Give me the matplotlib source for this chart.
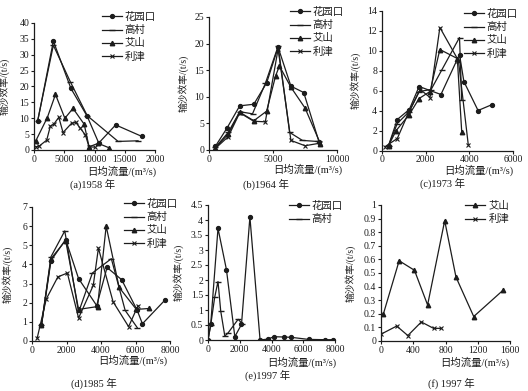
import matplotlib
matplotlib.use("Agg")
import matplotlib.pyplot as plt

plt.rcParams['font.family'] = ['Liberation Serif', 'Noto Sans CJK SC']

W, H = 528, 391
INK = '#1c1c1c'

# (a) 1958
a_hyk_x = [600, 3200, 6100, 8800, 10700, 13500, 17800]
a_hyk_y = [9.0, 34.3, 19.4, 10.6, 2.2, 7.9, 4.3]
a_gc_x = [600, 3200, 6000, 8800, 13900, 17200]
a_gc_y = [9.2, 33.0, 21.5, 10.8, 2.7, 2.9]
a_as_x = [300, 2200, 3550, 5100, 6450, 8300, 9100, 10600, 12400]
a_as_y = [2.9, 10.2, 17.5, 10.0, 13.1, 8.1, 1.0, 2.1, 0.7]
a_lj_x = [300, 900, 2100, 2700, 3300, 4100, 4800, 6200, 6900, 7600, 8500, 9100, 10000]
a_lj_y = [1.0, 1.3, 3.1, 7.5, 8.2, 10.3, 5.5, 8.4, 8.7, 7.0, 4.7, 1.0, 0.9]

# (b) 1964
b_hyk_x = [500, 1400, 2400, 3500, 4500, 5400, 6400, 7400, 8600]
b_hyk_y = [0.7, 4.1, 8.3, 8.6, 12.6, 19.3, 12.0, 10.8, 1.5]
b_gc_x = [500, 1500, 2400, 3400, 4400, 5400, 6300, 7300, 8500]
b_gc_y = [0.5, 3.3, 7.2, 6.8, 12.5, 19.5, 3.3, 1.8, 1.6]
b_as_x = [500, 1500, 2400, 3500, 4500, 5200, 5500, 6400, 7500, 8700]
b_as_y = [0.4, 3.0, 7.1, 5.5, 7.3, 13.9, 15.8, 11.8, 7.9, 1.2]
b_lj_x = [500, 1500, 2400, 3500, 4400, 5400, 6400, 7500, 8700]
b_lj_y = [0.3, 2.5, 7.0, 5.4, 5.3, 19.0, 1.8, 0.8, 1.3]

# (c) 1973
c_hyk_x = [300, 700, 1250, 1700, 2700, 3550, 3750, 4400, 5050]
c_hyk_y = [0.5, 3.1, 4.1, 6.4, 5.6, 9.6, 6.9, 4.0, 4.6]
c_gc_x = [300, 700, 1250, 1700, 2250, 2750, 3550, 3650]
c_gc_y = [0.5, 2.7, 3.9, 5.9, 6.1, 8.1, 11.3, 5.1]
c_as_x = [300, 650, 1250, 1700, 2200, 2650, 3450, 3650]
c_as_y = [0.5, 2.0, 3.6, 5.2, 5.9, 10.1, 9.2, 1.9]
c_lj_x = [150, 700, 1200, 1750, 2200, 2650, 3500, 3950]
c_lj_y = [0.4, 1.2, 3.7, 6.1, 5.3, 12.3, 9.0, 0.6]

# (d) 1985
d_hyk_x = [550, 1100, 1950, 2700, 3750, 4350, 5200, 6100, 6400, 7700]
d_hyk_y = [0.82, 4.2, 5.3, 3.26, 1.85, 3.84, 3.2, 1.6, 0.9, 2.13]
d_gc_x = [550, 1100, 1900, 2700, 3500, 4600, 5400, 6100]
d_gc_y = [0.85, 4.4, 5.75, 1.5, 3.55, 4.3, 1.6, 0.7]
d_as_x = [550, 1100, 1950, 2700, 3800, 4300, 5050, 6050, 6800]
d_as_y = [0.85, 4.3, 5.25, 1.65, 1.8, 6.0, 2.8, 1.65, 1.7]
d_lj_x = [300, 830, 1500, 2050, 2700, 3550, 3850, 4700, 5600, 6150]
d_lj_y = [0.15, 2.2, 3.35, 3.55, 1.2, 2.9, 4.85, 2.05, 0.75, 1.85]

# (e) 1997
e_hyk_x = [0, 170, 630, 1160, 1690, 2110, 2640, 3280, 3760, 4160, 4760, 5220, 6340, 7400, 7900]
e_hyk_y = [0, 0.52, 3.72, 2.35, 0.11, 0.52, 4.1, 0.0, 0.03, 0.11, 0.1, 0.09, 0.02, 0.01, 0.01]
e_gc_x = [0, 170, 420, 630, 800, 1060, 1270, 1900, 2150]
e_gc_y = [0, 0.5, 1.42, 1.95, 0.97, 0.13, 0.24, 0.69, 0.55]

# (f) 1997
f_as_x = [30, 225, 415, 578, 790, 930, 1150, 1517]
f_as_y = [0.2, 0.59, 0.52, 0.265, 0.885, 0.47, 0.18, 0.375]
f_lj_x = [0, 195, 333, 500, 652, 748]
f_lj_y = [0.05, 0.11, 0.04, 0.14, 0.093, 0.093]

STYLE = {
    '花园口': dict(marker='o', ms=2.8),
    '高村': dict(marker='_', ms=4.5, mew=1.0),
    '艾山': dict(marker='^', ms=3.2),
    '利津': dict(marker='x', ms=3.5, mew=0.8),
}

fig = plt.figure(figsize=(W / 100, H / 100), dpi=100)


def make_axes(l, r, t, b):
    ax = fig.add_axes([l / W, 1 - b / H, (r - l) / W, (b - t) / H])
    ax.spines['top'].set_visible(False)
    ax.spines['right'].set_visible(False)
    for s in ('left', 'bottom'):
        ax.spines[s].set_color(INK)
        ax.spines[s].set_linewidth(0.9)
    ax.tick_params(direction='out', length=2, width=0.8, colors=INK,
                   labelsize=7, pad=1.5)
    return ax


def draw_series(ax, series):
    for name, xs, ys in series:
        ax.plot(xs, ys, color=INK, lw=0.9, mfc=INK, mec=INK,
                label=name, **STYLE[name])


def finish(ax, xlim, xticks, xtl, ylim, yticks, ytl, leg_xy, xl_xy, cap_xy, caption, ylab_x):
    ax.set_xlim(*xlim)
    ax.set_ylim(*ylim)
    ax.set_xticks(xticks)
    ax.set_xticklabels(xtl)
    ax.set_yticks(yticks)
    ax.set_yticklabels(ytl)
    ax.set_ylabel('输沙效率/(t/s)', fontsize=7, color=INK)
    ax.yaxis.set_label_coords(ylab_x, 0.5)
    ax.legend(loc='upper right', bbox_to_anchor=(leg_xy[0] / W, 1 - leg_xy[1] / H),
              bbox_transform=fig.transFigure, frameon=False, fontsize=7.5,
              handlelength=1.9, handletextpad=0.3, labelspacing=0.3,
              borderpad=0, borderaxespad=0, labelcolor=INK)
    fig.text(xl_xy[0] / W, 1 - xl_xy[1] / H, '日均流量/(m³/s)', fontsize=7.5,
             ha='center', va='center', color=INK)
    fig.text(cap_xy[0] / W, 1 - cap_xy[1] / H, caption, fontsize=7.5,
             ha='center', va='center', color=INK)


# (a)
ax = make_axes(34, 155, 23, 150)
draw_series(ax, [('花园口', a_hyk_x, a_hyk_y), ('高村', a_gc_x, a_gc_y),
                 ('艾山', a_as_x, a_as_y), ('利津', a_lj_x, a_lj_y)])
finish(ax, (0, 20000), [0, 5000, 10000, 15000, 20000],
       ['0', '5000', '10000', '15000', '2000'],
       (0, 40), list(range(0, 41, 5)), [str(v) for v in range(0, 41, 5)],
       (156, 12), (122, 171), (93, 184), '(a)1958 年', -0.2)

# (b)
ax = make_axes(209, 337, 17, 150)
draw_series(ax, [('花园口', b_hyk_x, b_hyk_y), ('高村', b_gc_x, b_gc_y),
                 ('艾山', b_as_x, b_as_y), ('利津', b_lj_x, b_lj_y)])
finish(ax, (0, 10000), [0, 5000, 10000], ['0', '5000', '10000'],
       (0, 25), list(range(0, 26, 5)), [str(v) for v in range(0, 26, 5)],
       (344, 7), (308, 169), (266, 184), '(b)1964 年', -0.16)

# (c)
ax = make_axes(382, 513, 10.5, 150.5)
draw_series(ax, [('花园口', c_hyk_x, c_hyk_y), ('高村', c_gc_x, c_gc_y),
                 ('艾山', c_as_x, c_as_y), ('利津', c_lj_x, c_lj_y)])
finish(ax, (0, 6000), [0, 2000, 4000, 6000], ['0', '2000', '4000', '6000'],
       (0, 14), list(range(0, 15, 2)), [str(v) for v in range(0, 15, 2)],
       (518, 9), (479, 170.5), (442, 183), '(c)1973 年', -0.16)

# (d)
ax = make_axes(32, 170, 207, 341)
draw_series(ax, [('花园口', d_hyk_x, d_hyk_y), ('高村', d_gc_x, d_gc_y),
                 ('艾山', d_as_x, d_as_y), ('利津', d_lj_x, d_lj_y)])
finish(ax, (0, 8000), [0, 2000, 4000, 6000, 8000], ['0', '2000', '4000', '6000', '8000'],
       (0, 7), list(range(0, 8)), [str(v) for v in range(0, 8)],
       (178, 199), (133, 360), (94, 383), '(d)1985 年', -0.14)

# (e)
ax = make_axes(208, 335, 205, 340)
draw_series(ax, [('花园口', e_hyk_x, e_hyk_y), ('高村', e_gc_x, e_gc_y)])
e_yt = [0, 0.5, 1, 1.5, 2, 2.5, 3, 3.5, 4, 4.5]
finish(ax, (0, 8000), [0, 2000, 4000, 6000, 8000], ['0', '2000', '4000', '6000', '8000'],
       (0, 4.5), e_yt, [f'{v:g}' for v in e_yt],
       (343, 201), (302, 362), (268, 375), '(e)1997 年', -0.19)

# (f)
ax = make_axes(381, 510, 205, 341)
draw_series(ax, [('艾山', f_as_x, f_as_y), ('利津', f_lj_x, f_lj_y)])
f_yt = [0, 0.1, 0.2, 0.3, 0.4, 0.5, 0.6, 0.7, 0.8, 0.9, 1]
finish(ax, (0, 1600), [0, 400, 800, 1200, 1600], ['0', '400', '800', '1200', '1600'],
       (0, 1), f_yt, [f'{v:g}' for v in f_yt],
       (509, 201), (475, 362), (451, 383), '(f) 1997 年', -0.2)

fig.savefig('out.png', dpi=100, facecolor='white')
